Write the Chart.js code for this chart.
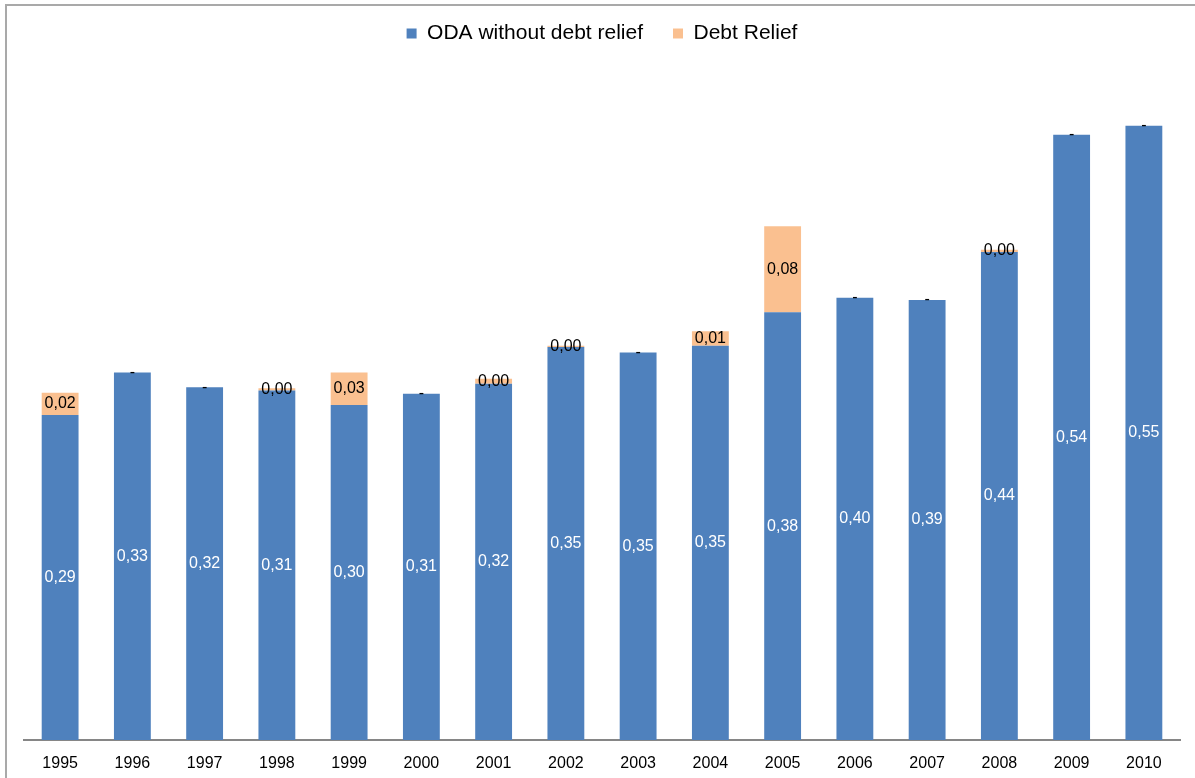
<!DOCTYPE html>
<html>
<head>
<meta charset="utf-8">
<script src="https://cdn.jsdelivr.net/npm/chart.js@4/dist/chart.umd.min.js"></script>
<style>
  body{ margin:0; background:#fff; }
  #wrap{ position:relative; width:1195px; height:778px; overflow:hidden; }
  #frame{ position:absolute; left:5px; top:4px; right:-10px; bottom:-10px;
    border-top:2px solid #a9a9a9; border-left:2px solid #a9a9a9; pointer-events:none; }
</style>
</head>
<body>
<div id="wrap">
  <canvas id="oda" width="1195" height="778"></canvas>
  <div id="frame"></div>
</div>
<script>
// ODA vs debt relief, 1995-2010

const years = ['1995','1996','1997','1998','1999','2000','2001','2002','2003','2004','2005','2006','2007','2008','2009','2010'];
const odaValues  = [0.291,0.329,0.316,0.313,0.300,0.310,0.319,0.352,0.347,0.353,0.383,0.396,0.394,0.437,0.542,0.550];
const debtValues = [0.020,0,0,0.002,0.029,0,0.0045,0.001,0,0.013,0.077,0,0,0.002,0,0];
const seriesNames = ['ODA without debt relief','Debt Relief'];

const FONT = "'Liberation Sans', Arial, sans-serif";

function fmt(v){
  if(v === 0) return '-';
  return v.toFixed(2).replace('.', ',');
}

// labels drawn in the middle of each stacked segment
const barLabels = {
  id:'barLabels',
  afterDatasetsDraw(chart){
    const ctx = chart.ctx;
    ctx.save();
    ctx.font = '16px ' + FONT;
    ctx.textAlign = 'center';
    ctx.textBaseline = 'middle';
    chart.data.datasets.forEach((ds, di)=>{
      const meta = chart.getDatasetMeta(di);
      meta.data.forEach((bar, i)=>{
        const p = bar.getProps(['x','y','base'], true);
        const v = ds.data[i];
        ctx.fillStyle = di === 0 ? '#ffffff' : '#000000';
        ctx.fillText(fmt(v), p.x, (p.y + p.base)/2);
      });
    });
    ctx.restore();
  }
};

// extra room under the legend
const legendGap = {
  id:'legendGap',
  beforeInit(chart){
    const fit = chart.legend.fit;
    chart.legend.fit = function(){
      fit.bind(chart.legend)();
      this.height = 77;
    };
  }
};

new Chart(document.getElementById('oda'), {
  type:'bar',
  data:{
    labels: years,
    datasets:[
      { label: seriesNames[0], data: odaValues, backgroundColor:'#4f81bd', borderWidth:0 },
      { label: seriesNames[1], data: debtValues, backgroundColor:'#fac090', borderWidth:0 }
    ]
  },
  options:{
    responsive:false,
    animation:false,
    devicePixelRatio:1,
    layout:{ padding:{ left:24, right:15, top:-7, bottom:0 } },
    datasets:{ bar:{ barPercentage:0.51, categoryPercentage:1 } },
    plugins:{
      tooltip:{ enabled:false },
      legend:{
        position:'top',
        labels:{ boxWidth:10, boxHeight:10, padding:30, color:'#000', font:{ family:FONT, size:21 } }
      }
    },
    scales:{
      x:{
        stacked:true,
        grid:{ display:true, color:'rgba(0,0,0,0)', drawTicks:false },
        border:{ display:true, color:'#868686', width:2 },
        ticks:{ color:'#000', padding:14, font:{ family:FONT, size:16 } },
        afterFit(scale){ scale.height = 38; }
      },
      y:{
        stacked:true,
        display:false,
        min:0,
        max:0.6
      }
    }
  },
  plugins:[barLabels, legendGap]
});
</script>
</body>
</html>
